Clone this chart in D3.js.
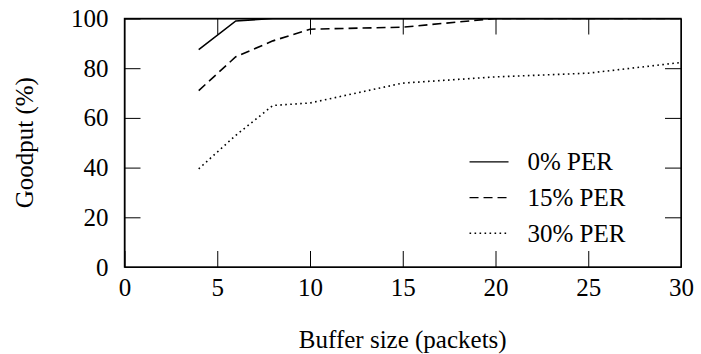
<!DOCTYPE html>
<html>
<head>
<meta charset="utf-8">
<script src="https://cdn.jsdelivr.net/npm/d3@7"></script>
</head>
<body style="margin:0">
<svg id="chart" width="701" height="354"></svg>
<script>
const bufferSizes = [4, 6, 8, 10, 15, 20, 25, 30]
const per0 = [87.5, 99, 100, 100, 100, 100, 100, 100]
const per15 = [71, 84.6, 91, 95.7, 96.5, 100, 100, 100]
const per30 = [39.5, 53, 65, 66, 74, 76.5, 78, 82.3]
const seriesNames = ['0% PER', '15% PER', '30% PER']
const dashes = [null, '9,5', '1.6,3.4']
const xTicks = [0, 5, 10, 15, 20, 25, 30]
const yTicks = [0, 20, 40, 60, 80, 100]

const tickLen = 16
const margin = { top: 18.5, right: 20, bottom: 87, left: 124.5 }
const width = 701 - margin.left - margin.right
const height = 354 - margin.top - margin.bottom

const svg = d3.select('#chart')
  .style('font-family', '"Liberation Serif"')
  .style('font-size', '25px')
const g = svg.append('g').attr('transform', `translate(${margin.left},${margin.top})`)

const x = d3.scaleLinear().domain([0, 30]).range([0, width])
const y = d3.scaleLinear().domain([0, 100]).range([height, 0])

// frame first, ticks on top of it
g.append('rect')
  .attr('width', width).attr('height', height)
  .attr('fill', 'none').attr('stroke', 'black').attr('stroke-width', 1.4)

const inner = xTicks.slice(1, -1)
const innerY = yTicks.slice(1, -1)

const bottomAxis = g.append('g')
  .attr('transform', `translate(0,${height})`)
  .call(d3.axisBottom(x).tickValues(xTicks).tickSizeInner(-tickLen).tickSizeOuter(0).tickPadding(10))
bottomAxis.attr('font-family', null).attr('font-size', null)
bottomAxis.selectAll('text').attr('dy', '0.75em')

const leftAxis = g.append('g')
  .call(d3.axisLeft(y).tickValues(yTicks).tickSizeInner(-tickLen).tickSizeOuter(0).tickPadding(16))
leftAxis.attr('font-family', null).attr('font-size', null)

g.append('g')
  .call(d3.axisTop(x).tickValues(inner).tickSizeInner(-tickLen).tickSizeOuter(0).tickFormat(''))
g.append('g')
  .attr('transform', `translate(${width},0)`)
  .call(d3.axisRight(y).tickValues(innerY).tickSizeInner(-tickLen).tickSizeOuter(0).tickFormat(''))

g.append('clipPath').attr('id', 'clip')
  .append('rect').attr('width', width).attr('height', height)

const line = d3.line()
  .x((d, i) => x(bufferSizes[i]))
  .y(d => y(d))

;[per0, per15, per30].forEach((vals, k) => {
  g.append('path')
    .datum(vals)
    .attr('clip-path', 'url(#clip)')
    .attr('fill', 'none')
    .attr('stroke', 'black')
    .attr('stroke-width', 1.6)
    .attr('stroke-dasharray', dashes[k])
    .attr('d', line)
})

// legend
const legend = g.append('g').attr('transform', `translate(${x(18.6)},${y(42.3)})`)
seriesNames.forEach((name, k) => {
  const row = legend.append('g').attr('transform', `translate(0,${k * 35.7})`)
  row.append('line')
    .attr('x1', 0).attr('x2', 39)
    .attr('stroke', 'black').attr('stroke-width', 1.4)
    .attr('stroke-dasharray', dashes[k])
  row.append('text')
    .attr('x', 58).attr('dy', '0.33em')
    .text(name)
})

// axis titles
svg.append('text')
  .attr('x', margin.left + width / 2).attr('y', 348)
  .attr('text-anchor', 'middle')
  .text('Buffer size (packets)')

svg.append('text')
  .attr('transform', `translate(33,${margin.top + height / 2}) rotate(-90)`)
  .attr('text-anchor', 'middle')
  .text('Goodput (%)')
</script>
</body>
</html>
